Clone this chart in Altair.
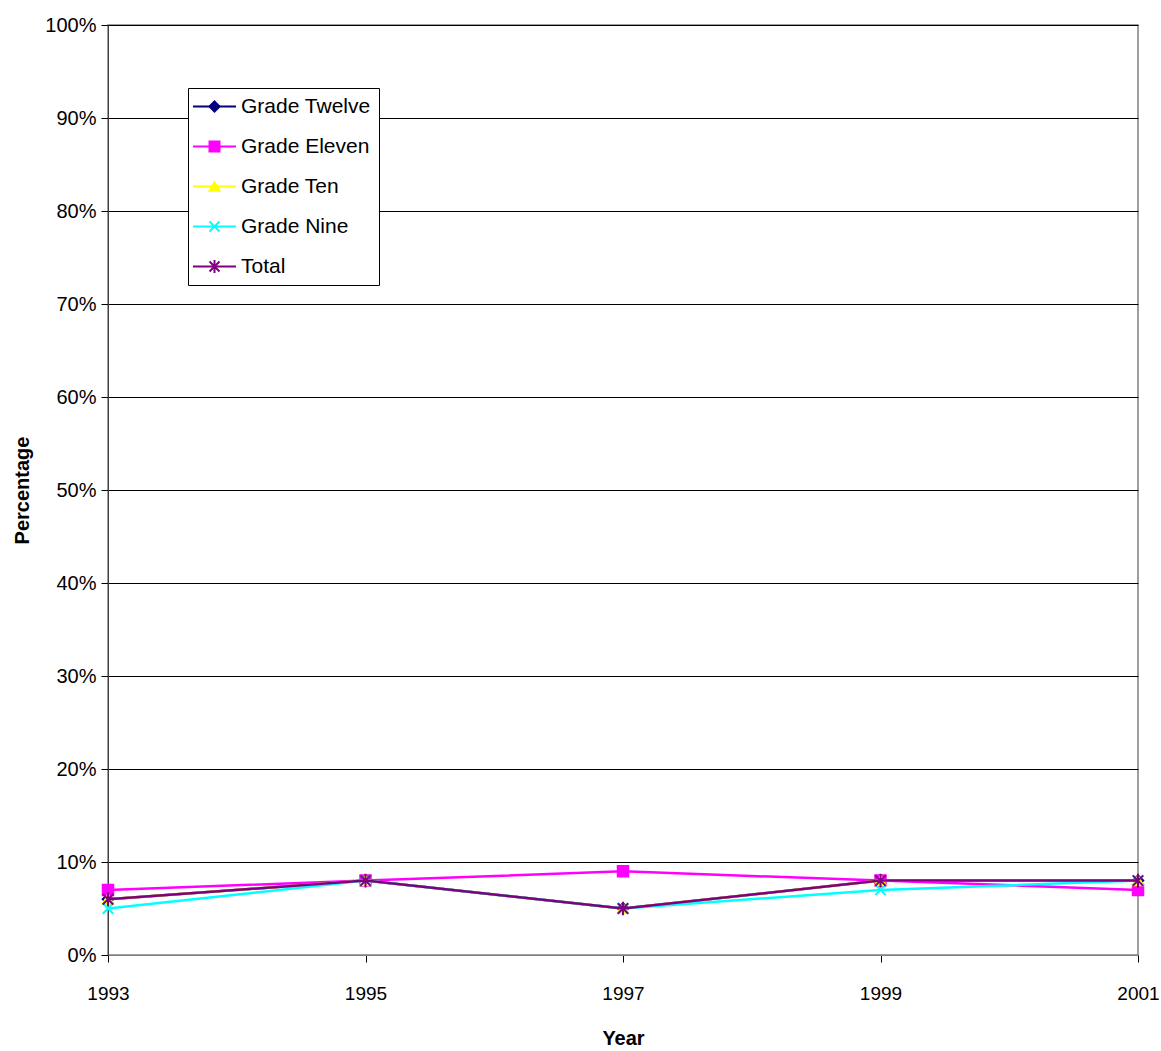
import altair as alt
import pandas as pd

years = [1993, 1995, 1997, 1999, 2001]
series = ["Grade Twelve", "Grade Eleven", "Grade Ten", "Grade Nine", "Total"]
markers = ["m12", "m11", "m10", "m9", "mT"]
grade_twelve = [0.06, 0.08, 0.05, 0.08, 0.08]
grade_eleven = [0.07, 0.08, 0.09, 0.08, 0.07]
grade_ten = [0.06, 0.08, 0.05, 0.08, 0.08]
grade_nine = [0.05, 0.08, 0.05, 0.07, 0.08]
total = [0.06, 0.08, 0.05, 0.08, 0.08]

colors = ["#000080", "#FF00FF", "#FFFF00", "#00FFFF", "#800080"]
shapes = [
    "diamond",
    "square",
    "triangle-up",
    "M-1,-1L1,1M-1,1L1,-1",
    "M-1,-1L1,1M-1,1L1,-1M0,-1.3L0,1.3",
]

values = [grade_twelve, grade_eleven, grade_ten, grade_nine, total]
rows = []
for name, mk, vals in zip(series, markers, values):
    for yr, v in zip(years, vals):
        # "marker" keys the marker symbols so their legend stays separate from the lines
        rows.append({"year": yr, "value": v, "series": name, "marker": mk})
df = pd.DataFrame(rows)

FONT = "Liberation Sans, Arial"

x_enc = alt.X(
    "year:Q",
    scale=alt.Scale(domain=[1993, 2001], nice=False, zero=False),
    axis=alt.Axis(
        values=years, format="d", title="Year", grid=False, labelFlush=False,
        tickSize=7, tickColor="#000000", domainColor="#808080",
        labelFontSize=19, labelPadding=22, titleFontSize=20,
        titleFontWeight="bold", titlePadding=25,
    ),
)
y_enc = alt.Y(
    "value:Q",
    scale=alt.Scale(domain=[0, 1], nice=False),
    axis=alt.Axis(
        values=[i / 10 for i in range(11)], format=".0%", title="Percentage",
        grid=True, gridColor="#000000", gridWidth=1, gridOpacity=1,
        tickSize=7, tickColor="#000000", domainColor="#404040",
        labelFontSize=20, labelPadding=5, titleFontSize=20,
        titleFontWeight="bold", titlePadding=12,
    ),
)

color_scale = alt.Scale(domain=series, range=colors)
marker_color_scale = alt.Scale(domain=markers, range=colors)
shape_scale = alt.Scale(domain=markers, range=shapes)

legend_common = dict(
    title=None, orient="none", legendX=80, legendY=63,
    symbolSize=100, symbolStrokeWidth=2, symbolOffset=8,
    labelFontSize=21, labelFont=FONT, rowPadding=18, padding=8,
    labelOffset=16, labelLimit=300,
)
# line segments drawn as a wide stroke path behind the marker symbols
line_legend = alt.Legend(
    symbolType="M-4.3,0L4.3,0",
    strokeColor="#000000", fillColor="#ffffff", zindex=1,
    **legend_common,
)
# marker symbols only; a blank label keeps the rows the same height
point_legend = alt.Legend(labelExpr="' '", labelOpacity=0, zindex=2, **legend_common)

layers = []
for name in series:
    sub = df[df["series"] == name]
    base = alt.Chart(sub).encode(x=x_enc, y=y_enc)
    line = base.mark_line(strokeWidth=2.5).encode(
        color=alt.Color("series:N", scale=color_scale, legend=line_legend)
    )
    pts = base.mark_point(size=110, filled=True, opacity=1, strokeWidth=2).encode(
        fill=alt.Fill("marker:N", scale=marker_color_scale, legend=point_legend),
        stroke=alt.Stroke("marker:N", scale=marker_color_scale, legend=point_legend),
        shape=alt.Shape("marker:N", scale=shape_scale, legend=point_legend),
    )
    layers += [line, pts]

chart = (
    alt.layer(*layers)
    .properties(
        width=1030, height=930,
        autosize=alt.AutoSizeParams(type="none"),
        padding={"left": 108, "top": 25, "right": 23, "bottom": 96},
    )
    .configure(font=FONT)
    .configure_view(stroke="#808080", strokeWidth=1.5)
    .configure_axis(labelColor="#000000", titleColor="#000000")
)

chart.save("out.html", embed_options={"renderer": "svg", "actions": False})
